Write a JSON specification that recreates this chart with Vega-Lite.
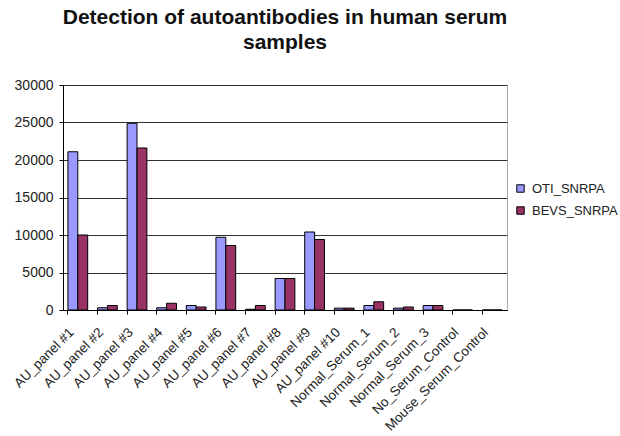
{
  "$schema": "https://vega.github.io/schema/vega-lite/v6.json",
  "autosize": {"type": "none"},
  "padding": {"left": 63, "top": 85, "right": 113, "bottom": 126},
  "width": 444,
  "height": 225,
  "background": "white",
  "title": {
    "text": ["Detection of autoantibodies in human serum", "samples"],
    "font": "Liberation Sans",
    "fontSize": 21,
    "fontWeight": "bold",
    "color": "#111",
    "anchor": "middle",
    "lineHeight": 25,
    "offset": 25
  },
  "config": {
    "view": {"stroke": "#aaaaaa", "strokeWidth": 1},
    "font": "Liberation Sans"
  },
  "data": {
    "values": [
      {"sample": "AU_panel #1", "series": "OTI_SNRPA", "value": 21100},
      {"sample": "AU_panel #1", "series": "BEVS_SNRPA", "value": 10000},
      {"sample": "AU_panel #2", "series": "OTI_SNRPA", "value": 300},
      {"sample": "AU_panel #2", "series": "BEVS_SNRPA", "value": 600},
      {"sample": "AU_panel #3", "series": "OTI_SNRPA", "value": 24900},
      {"sample": "AU_panel #3", "series": "BEVS_SNRPA", "value": 21600},
      {"sample": "AU_panel #4", "series": "OTI_SNRPA", "value": 300},
      {"sample": "AU_panel #4", "series": "BEVS_SNRPA", "value": 900},
      {"sample": "AU_panel #5", "series": "OTI_SNRPA", "value": 600},
      {"sample": "AU_panel #5", "series": "BEVS_SNRPA", "value": 400},
      {"sample": "AU_panel #6", "series": "OTI_SNRPA", "value": 9700},
      {"sample": "AU_panel #6", "series": "BEVS_SNRPA", "value": 8600},
      {"sample": "AU_panel #7", "series": "OTI_SNRPA", "value": 100},
      {"sample": "AU_panel #7", "series": "BEVS_SNRPA", "value": 600},
      {"sample": "AU_panel #8", "series": "OTI_SNRPA", "value": 4200},
      {"sample": "AU_panel #8", "series": "BEVS_SNRPA", "value": 4200},
      {"sample": "AU_panel #9", "series": "OTI_SNRPA", "value": 10400},
      {"sample": "AU_panel #9", "series": "BEVS_SNRPA", "value": 9400},
      {"sample": "AU_panel #10", "series": "OTI_SNRPA", "value": 250},
      {"sample": "AU_panel #10", "series": "BEVS_SNRPA", "value": 250},
      {"sample": "Normal_Serum_1", "series": "OTI_SNRPA", "value": 600},
      {"sample": "Normal_Serum_1", "series": "BEVS_SNRPA", "value": 1100},
      {"sample": "Normal_Serum_2", "series": "OTI_SNRPA", "value": 250},
      {"sample": "Normal_Serum_2", "series": "BEVS_SNRPA", "value": 400},
      {"sample": "Normal_Serum_3", "series": "OTI_SNRPA", "value": 600},
      {"sample": "Normal_Serum_3", "series": "BEVS_SNRPA", "value": 600},
      {"sample": "No_Serum_Control", "series": "OTI_SNRPA", "value": 0},
      {"sample": "No_Serum_Control", "series": "BEVS_SNRPA", "value": 0},
      {"sample": "Mouse_Serum_Control", "series": "OTI_SNRPA", "value": 0},
      {"sample": "Mouse_Serum_Control", "series": "BEVS_SNRPA", "value": 0}
    ]
  },
  "mark": {"type": "bar", "stroke": "#000000", "strokeWidth": 1},
  "encoding": {
    "x": {
      "field": "sample",
      "type": "nominal",
      "sort": null,
      "title": null,
      "scale": {"paddingInner": 0.333, "paddingOuter": 0.1667},
      "axis": {
        "labelAngle": -45,
        "labelFont": "Liberation Sans",
        "labelFontSize": 13.5,
        "labelColor": "#222",
        "labelPadding": 11,
        "labelOffset": -11,
        "domainColor": "#000",
        "tickColor": "#000",
        "tickSize": 4,
        "bandPosition": 0
      }
    },
    "xOffset": {
      "field": "series",
      "type": "nominal",
      "sort": ["OTI_SNRPA", "BEVS_SNRPA"],
      "scale": {"paddingInner": 0, "paddingOuter": 0}
    },
    "y": {
      "field": "value",
      "type": "quantitative",
      "title": null,
      "scale": {"domain": [0, 30000], "nice": false},
      "axis": {
        "values": [0, 5000, 10000, 15000, 20000, 25000, 30000],
        "format": "d",
        "labelFont": "Liberation Sans",
        "labelFontSize": 14,
        "labelColor": "#222",
        "labelPadding": 6,
        "domainColor": "#000",
        "tickColor": "#000",
        "tickSize": 4,
        "gridColor": "#333",
        "gridWidth": 1
      }
    },
    "color": {
      "field": "series",
      "type": "nominal",
      "sort": ["OTI_SNRPA", "BEVS_SNRPA"],
      "scale": {"domain": ["OTI_SNRPA", "BEVS_SNRPA"], "range": ["#9999FF", "#993366"]},
      "legend": {
        "title": null,
        "orient": "none",
        "legendX": 451,
        "legendY": 97,
        "symbolType": "square",
        "symbolSize": 55,
        "symbolStrokeColor": "#000",
        "symbolStrokeWidth": 1,
        "labelFont": "Liberation Sans",
        "labelFontSize": 13,
        "labelColor": "#222",
        "rowPadding": 8,
        "labelOffset": 5
      }
    }
  }
}
